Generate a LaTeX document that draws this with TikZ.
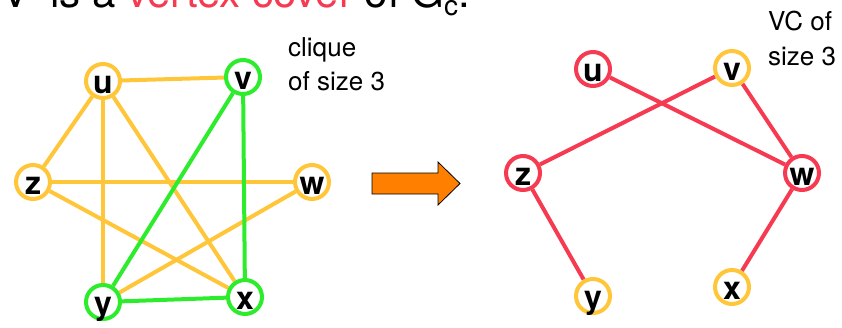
\documentclass[tikz,border=0pt]{standalone}
\usepackage{fontspec}
\setmainfont{TeX Gyre Heros}
\usetikzlibrary{backgrounds}
\definecolor{nodeyellow}{RGB}{255,198,58}
\definecolor{cliquegreen}{RGB}{44,236,44}
\definecolor{coverred}{RGB}{245,58,82}
\definecolor{arroworange}{RGB}{255,127,0}
% vertex letter: baseline pushed below the circle centre
\newcommand\vlabel[1]{\smash{\raisebox{-12pt}{#1}}}
\begin{document}
\begin{tikzpicture}[x=1pt,y=-1pt,
  vtx/.style={circle,draw=#1,line width=4pt,fill=white,minimum size=34pt,
    inner sep=0pt,font=\fontsize{32}{32}\selectfont\bfseries},
  edge/.style={line width=4pt,draw=#1},
  note/.style={anchor=base west,inner sep=0pt,font=\fontsize{26}{26}\selectfont}]
\useasboundingbox (0,0) rectangle (842,327);
\clip (0,0) rectangle (842,327);

% heading (its upper part runs off the top edge)
\node[anchor=base west,inner sep=0pt,font=\fontsize{42}{42}\selectfont] (title) at (1,7)
  {V' is a \textcolor{coverred}{vertex cover} of G\raisebox{-8pt}{\fontsize{28}{28}\selectfont c}.};

% graph G with a clique of size 3
\node[vtx=nodeyellow]  (Lu) at (103,81)  {\vlabel{u}};
\node[vtx=cliquegreen] (Lv) at (243,77)  {\vlabel{v}};
\node[vtx=nodeyellow]  (Lz) at (33,182)  {\vlabel{z}};
\node[vtx=nodeyellow]  (Lw) at (312,182) {\vlabel{w}};
\node[vtx=cliquegreen] (Ly) at (103,302) {\vlabel{y}};
\node[vtx=cliquegreen] (Lx) at (245,297) {\vlabel{x}};
\begin{scope}[on background layer]
  \draw[edge=nodeyellow] (Lu) -- (Lv);
  \draw[edge=nodeyellow] (Lu) -- (Lz);
  \draw[edge=nodeyellow] (Lu) -- (Ly);
  \draw[edge=nodeyellow] (Lu) -- (Lx);
  \draw[edge=nodeyellow] (Lz) -- (Lw);
  \draw[edge=nodeyellow] (Lz) -- (Lx);
  \draw[edge=nodeyellow] (Lw) -- (Ly);
  \draw[edge=cliquegreen] (Lv) -- (Ly);
  \draw[edge=cliquegreen] (Lv) -- (Lx);
  \draw[edge=cliquegreen] (Ly) -- (Lx);
\end{scope}
\node[note] (clq1) at (288,56) {clique};
\node[note] (clq2) at (288,90) {of size 3};

% transformation arrow
\draw[fill=arroworange,draw=black,line width=0.8pt,line join=miter]
  (372,173) -- (438,173) -- (438,162) -- (460,183.5) -- (438,205) -- (438,194) -- (372,194) -- cycle;

% complement graph with a vertex cover of size 3
\node[vtx=coverred]   (Ru) at (593,69)  {\vlabel{u}};
\node[vtx=nodeyellow] (Rv) at (732,68)  {\vlabel{v}};
\node[vtx=coverred]   (Rz) at (523,173) {\vlabel{z}};
\node[vtx=coverred]   (Rw) at (802,173) {\vlabel{w}};
\node[vtx=nodeyellow] (Ry) at (593,296) {\vlabel{y}};
\node[vtx=nodeyellow] (Rx) at (732,287) {\vlabel{x}};
\begin{scope}[on background layer]
  \draw[edge=coverred] (Ru) -- (Rw);
  \draw[edge=coverred] (Rv) -- (Rz);
  \draw[edge=coverred] (Rv) -- (Rw);
  \draw[edge=coverred] (Rz) -- (Ry);
  \draw[edge=coverred] (Rw) -- (Rx);
\end{scope}
\node[note] (vc1) at (768,30) {VC of};
\node[note] (vc2) at (768,65) {size 3};
\end{tikzpicture}
\end{document}
